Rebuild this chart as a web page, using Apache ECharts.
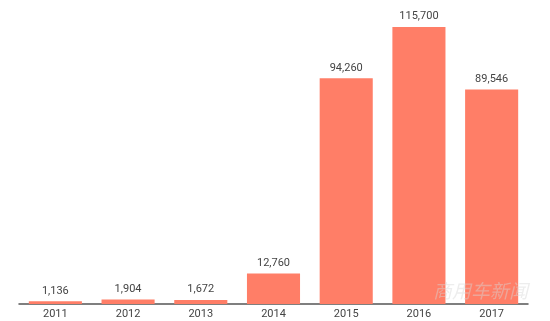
<!DOCTYPE html>
<html><head><meta charset="utf-8">
<script src="https://cdn.jsdelivr.net/npm/echarts@6/dist/echarts.min.js"></script>
<style>html,body{margin:0;padding:0;background:#fff}#c{width:550px;height:321px}</style>
</head><body><div id="c"></div>
<script>
var categories = ['2011','2012','2013','2014','2015','2016','2017'];
var values = [1136, 1904, 1672, 12760, 94260, 115700, 89546];
var chart = echarts.init(document.getElementById('c'));
chart.setOption({
  animation: false,
  grid: {left: 19, right: 22, top: 27, bottom: 17},
  xAxis: {
    type: 'category', data: categories,
    axisLine: {lineStyle: {color: '#555', width: 1.5}},
    axisTick: {show: false},
    axisLabel: {color: '#444', fontSize: 11, fontFamily: 'Roboto', margin: 5}
  },
  yAxis: {type: 'value', min: 0, max: 115700, show: false, splitLine: {show: false}},
  series: [{
    type: 'bar', data: values, barWidth: '73%',
    itemStyle: {color: '#FF7E67'},
    label: {show: true, position: 'top', distance: 5, color: '#444', fontSize: 11, fontFamily: 'Roboto',
      formatter: function(p){ return p.value.toLocaleString('en-US'); }}
  }],
  graphic: [{type: 'text', x: 433, y: 281, z: 100, style: {text: '商用车新闻', fill: 'rgba(215,215,215,0.45)', fontSize: 19, fontStyle: 'italic', fontFamily: 'Noto Sans CJK SC'}}]
});
</script></body></html>
